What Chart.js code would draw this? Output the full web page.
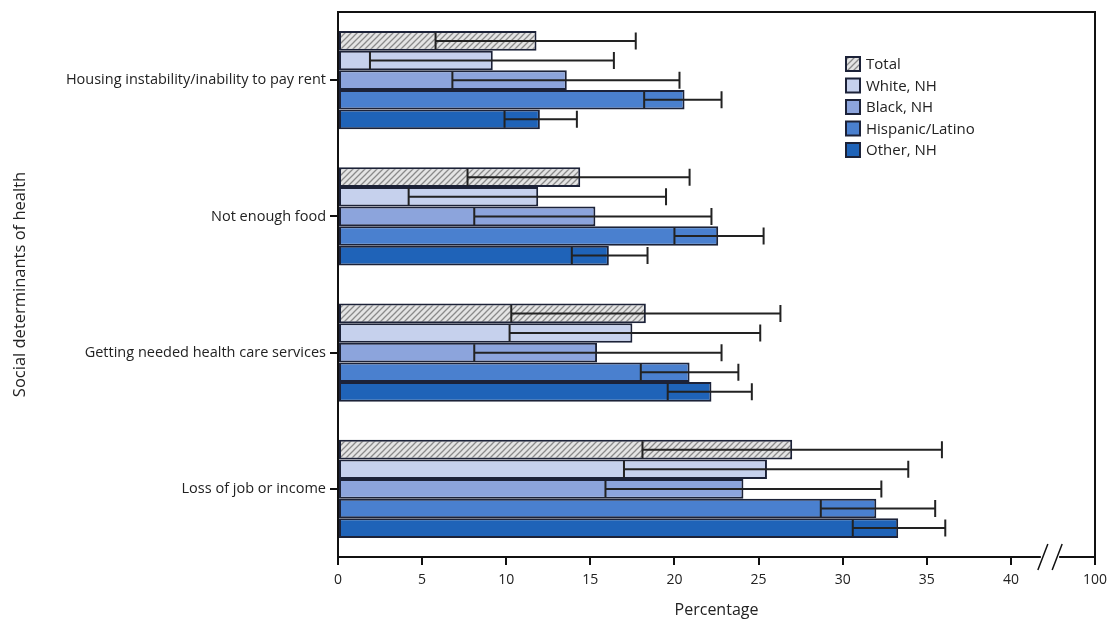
<!DOCTYPE html>
<html>
<head>
<meta charset="utf-8">
<script src="https://cdn.jsdelivr.net/npm/chart.js@4.4.0/dist/chart.umd.min.js"></script>
<style>
  html, body { margin: 0; padding: 0; background: #fff; }
  #wrap { width: 1108px; height: 624px; position: relative; }
</style>
</head>
<body>
<div id="wrap"><canvas id="chartJSContainer"></canvas></div>

<script>
  // values (percent)
  var categories = ['Housing instability/inability to pay rent', 'Not enough food', 'Getting needed health care services', 'Loss of job or income']
  var seriesNames = ['Total', 'White, NH', 'Black, NH', 'Hispanic/Latino', 'Other, NH']

  var totalVals = [11.8, 14.4, 18.3, 27.0]
  var whiteVals = [9.2, 11.9, 17.5, 25.5]
  var blackVals = [13.6, 15.3, 15.4, 24.1]
  var hispVals = [20.6, 22.6, 20.9, 32.0]
  var otherVals = [12.0, 16.1, 22.2, 33.3]

  var totalLow = [5.8, 7.7, 10.3, 18.1]
  var totalHigh = [17.7, 20.9, 26.3, 35.9]
  var whiteLow = [1.9, 4.2, 10.2, 17.0]
  var whiteHigh = [16.4, 19.5, 25.1, 33.9]
  var blackLow = [6.8, 8.1, 8.1, 15.9]
  var blackHigh = [20.3, 22.2, 22.8, 32.3]
  var hispLow = [18.2, 20.0, 18.0, 28.7]
  var hispHigh = [22.8, 25.3, 23.8, 35.5]
  var otherLow = [9.9, 13.9, 19.6, 30.6]
  var otherHigh = [14.2, 18.4, 24.6, 36.1]

  var xTicks = [0, 5, 10, 15, 20, 25, 30, 35, 40, 100]

  var fontFam = "'Open Sans', 'Noto Sans', sans-serif"
  var inkColor = '#1c2238'
  var textColor = '#222'

  // hatched fill for "Total"
  function hatch()
  {
    let c = document.createElement('canvas')
    c.width = 6
    c.height = 6
    let g = c.getContext('2d')
    g.fillStyle = '#e4e4e4'
    g.fillRect(0, 0, 6, 6)
    g.strokeStyle = '#8a8a8a'
    g.lineWidth = 1.3
    g.beginPath()
    g.moveTo(-1, 7); g.lineTo(7, -1)
    g.moveTo(-1, 1); g.lineTo(1, -1)
    g.moveTo(5, 7); g.lineTo(7, 5)
    g.stroke()
    return g.createPattern(c, 'repeat')
  }

  var hatchFill = hatch()
  var fills = [hatchFill, '#c6d1ed', '#8ca4dc', '#4a80cf', '#1f63b8']
  var vals = [totalVals, whiteVals, blackVals, hispVals, otherVals]
  var lows = [totalLow, whiteLow, blackLow, hispLow, otherLow]
  var highs = [totalHigh, whiteHigh, blackHigh, hispHigh, otherHigh]

  // the axis runs 0..45 and the last slot stands for 100 after the break
  function toAxis(v) { return v === 100 ? 45 : v }

  var errorBars = {
    id: 'errorBars',
    afterDatasetsDraw(chart) {
      let ctx = chart.ctx
      let xs = chart.scales.x
      ctx.save()
      ctx.strokeStyle = '#222'
      ctx.lineWidth = 2
      chart.data.datasets.forEach((ds, i) => {
        let meta = chart.getDatasetMeta(i)
        meta.data.forEach((bar, j) => {
          let y = bar.y
          let x1 = xs.getPixelForValue(lows[i][j])
          let x2 = xs.getPixelForValue(highs[i][j])
          let h = 8.5
          ctx.beginPath()
          ctx.moveTo(x1, y); ctx.lineTo(x2, y)
          ctx.moveTo(x1, y - h); ctx.lineTo(x1, y + h)
          ctx.moveTo(x2, y - h); ctx.lineTo(x2, y + h)
          ctx.stroke()
        })
      })
      ctx.restore()
    }
  }

  var frameAndBreak = {
    id: 'frameAndBreak',
    afterDraw(chart) {
      let ctx = chart.ctx
      let a = chart.chartArea
      let xs = chart.scales.x
      ctx.save()
      ctx.strokeStyle = '#111'
      ctx.lineWidth = 2
      ctx.beginPath()
      ctx.moveTo(a.left, a.bottom); ctx.lineTo(a.left, a.top)
      ctx.lineTo(a.right, a.top); ctx.lineTo(a.right, a.bottom)
      ctx.stroke()
      // axis break
      let b1 = xs.getPixelForValue(41.9)
      let b2 = xs.getPixelForValue(42.75)
      ctx.fillStyle = '#fff'
      ctx.fillRect(b1 - 2, a.bottom - 3, b2 - b1 + 4, 6)
      ctx.lineWidth = 1.5
      ctx.beginPath()
      ctx.moveTo(b1 - 5, a.bottom + 13); ctx.lineTo(b1 + 5, a.bottom - 13)
      ctx.moveTo(b2 - 5, a.bottom + 13); ctx.lineTo(b2 + 5, a.bottom - 13)
      ctx.stroke()
      ctx.restore()
    }
  }

  var insideLegend = {
    id: 'insideLegend',
    afterDraw(chart) {
      let ctx = chart.ctx
      let x = 846, y = 57
      ctx.save()
      ctx.font = '15px ' + fontFam
      ctx.textBaseline = 'middle'
      seriesNames.forEach((n, i) => {
        let yy = y + i * 21.5
        ctx.fillStyle = fills[i]
        ctx.fillRect(x, yy, 14, 14)
        ctx.strokeStyle = inkColor
        ctx.lineWidth = 2
        ctx.strokeRect(x, yy, 14, 14)
        ctx.fillStyle = textColor
        ctx.fillText(n, x + 20, yy + 8)
      })
      ctx.restore()
    }
  }

  var options = {
    type: 'bar',
    data: {
      labels: categories,
      datasets: seriesNames.map((n, i) => ({
        label: n,
        data: vals[i],
        backgroundColor: fills[i],
        borderColor: inkColor,
        borderWidth: 2,
        borderSkipped: false,
        categoryPercentage: 0.72,
        barPercentage: 1.0
      }))
    },
    options: {
      indexAxis: 'y',
      responsive: false,
      animation: false,
      layout: { padding: { top: 12, right: 13, left: 6, bottom: 0 } },
      plugins: {
        legend: { display: false },
        tooltip: { enabled: false }
      },
      scales: {
        x: {
          min: 0,
          max: 45,
          afterBuildTicks: (s) => { s.ticks = xTicks.map(v => ({ value: toAxis(v) })) },
          afterFit: (s) => { s.height = 67; s.paddingLeft = 0; s.paddingRight = 0 },
          ticks: {
            callback: (v) => v === 45 ? '100' : v,
            color: textColor,
            font: { family: fontFam, size: 14 },
            padding: 7,
            maxRotation: 0
          },
          grid: { drawOnChartArea: false, tickLength: 8, color: '#111', lineWidth: 2 },
          border: { color: '#111', width: 2 },
          title: {
            display: true,
            text: 'Percentage',
            color: textColor,
            font: { family: fontFam, size: 16 },
            padding: { top: 10, bottom: 4 }
          }
        },
        y: {
          afterFit: (s) => { s.width = 332; s.paddingTop = 0; s.paddingBottom = 0 },
          ticks: {
            color: textColor,
            font: { family: fontFam, size: 14.5 },
            padding: 4
          },
          grid: { drawOnChartArea: false, offset: false, tickLength: 8, color: '#111', lineWidth: 2 },
          border: { color: '#111', width: 2 },
          title: {
            display: true,
            text: 'Social determinants of health',
            color: textColor,
            font: { family: fontFam, size: 16.5 },
            padding: { top: 4, bottom: 0 }
          }
        }
      }
    },
    plugins: [errorBars, frameAndBreak, insideLegend]
  }

  var cv = document.getElementById('chartJSContainer')
  cv.width = 1108
  cv.height = 624
  new Chart(cv.getContext('2d'), options)
</script>
</body>
</html>
